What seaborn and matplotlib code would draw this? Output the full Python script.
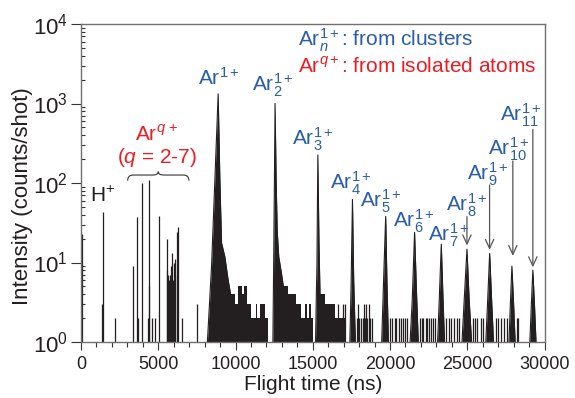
import matplotlib
matplotlib.use("Agg")
import matplotlib.pyplot as plt
import matplotlib.ticker as mticker
from matplotlib.path import Path
from matplotlib.patches import PathPatch
import pandas as pd
import seaborn as sns

sns.set_theme(style="ticks")
plt.rcParams["font.family"] = ["Liberation Sans", "DejaVu Sans"]
plt.rcParams["mathtext.fontset"] = "custom"
plt.rcParams["mathtext.rm"] = "Liberation Sans"
plt.rcParams["mathtext.it"] = "Liberation Sans:italic"
plt.rcParams["mathtext.bf"] = "Liberation Sans:bold"

# single-channel spikes: H+, Ar q+ lines and baseline noise (flight time ns, counts/shot)
spike_t = [60, 1330, 1400, 2200,
           3340, 3600, 3710, 3940, 4330, 4380, 4420, 4610, 4800, 5080,
           5540, 5580, 5640, 5700, 5760, 5820, 5880, 5940, 6000, 6060,
           6110, 6200, 6300, 6510, 7480,
           16640, 16960, 17110,
           17850, 17930, 18020, 18100, 18230, 18320, 18400, 18470, 18540,
           18620, 18700, 18840,
           20010, 20100, 20300, 20420, 20560, 20700, 20850, 21000, 21120,
           21950, 22070, 22160, 22300, 22400, 22520, 22640, 22780, 22940,
           23650, 23800, 23970, 24140, 24310, 24440,
           25400, 25480, 25650, 25870, 26010,
           26830, 26980, 27200, 27410, 27590,
           28200, 28300]
spike_v = [23, 3, 43, 2,
           9, 37, 2, 100, 2, 5, 110, 2, 2, 38,
           8, 20, 7, 6, 7, 9, 13, 6, 10, 7,
           11, 24, 28, 2, 3,
           3, 3, 3,
           2, 3, 2, 2, 2, 3, 2, 3, 2,
           3, 2, 2,
           2, 2, 2, 2, 2, 2, 2, 2, 2,
           2, 2, 2, 2, 2, 2, 2, 2, 2,
           2, 2, 2, 2, 2, 2,
           2, 2, 2, 2, 2,
           2, 2, 2, 2, 2,
           2, 2]

# dense noise between the first cluster peaks (step levels)
tail_t = [9700, 9958, 10173, 10450, 10550, 10712, 11035, 11300, 11360, 11466,
          11574, 11897, 12113, 12900, 13406, 13944, 14268, 14500, 14600, 14750,
          14914, 15022, 15450, 15776, 16422, 17177, 17180]
tail_v = [4, 3, 5, 4, 5, 3, 2, 3, 2, 2,
          3, 2, 1, 5, 4, 3, 2, 3, 2, 3,
          2, 1, 4, 3, 2, 1, 1]

# Ar_n^{1+} cluster peak profiles
peak_names = ["1", "2", "3", "4", "5", "6", "7", "8", "9", "10", "11"]
peak_t = [
    [8180, 8450, 8665, 8878, 8988, 9098, 9311, 9525, 9744, 9800],
    [12420, 12480, 12520, 12560, 12630, 12700, 12800, 12975, 13100, 13150],
    [15180, 15230, 15270, 15330, 15400, 15460, 15520],
    [17400, 17480, 17570, 17650, 17760],
    [19460, 19600, 19720, 19800, 19900],
    [21300, 21440, 21590, 21720, 21830],
    [23080, 23190, 23320, 23430, 23530],
    [24660, 24800, 24980, 25120, 25280],
    [26200, 26320, 26450, 26580, 26700],
    [27700, 27790, 27890, 28000, 28100],
    [29050, 29150, 29245, 29350, 29450],
]
peak_v = [
    [1, 9, 110, 1320, 110, 17.6, 11.8, 6, 3.4, 1],
    [1, 16, 109, 1000, 109, 25, 11.8, 7.3, 5, 1],
    [1, 3.7, 8.9, 225, 19, 5, 1],
    [1, 5, 62, 6, 1],
    [1, 7.3, 38, 6, 1],
    [1, 3.4, 24, 4, 1],
    [1, 3.5, 17, 3.5, 1],
    [1, 3.3, 14.7, 3.5, 1],
    [1, 3.3, 13, 3.3, 1],
    [1, 3, 9, 3, 1],
    [1, 3, 8, 3, 1],
]

# peak labels (left edge, baseline)
label_text = ["Ar$^{1+}$", "Ar$_{2}^{1+}$", "Ar$_{3}^{1+}$", "Ar$_{4}^{1+}$",
              "Ar$_{5}^{1+}$", "Ar$_{6}^{1+}$", "Ar$_{7}^{1+}$", "Ar$_{8}^{1+}$",
              "Ar$_{9}^{1+}$", "Ar$_{10}^{1+}$", "Ar$_{11}^{1+}$"]
label_t = [7585, 11080, 13650, 16100, 18050, 20200, 22450, 23600, 24980, 26350, 27150]
label_v = [1710, 1407, 300, 83, 49, 28, 18.5, 43.5, 108, 225, 600]

# arrows for the weak peaks Ar8..Ar11
arrow_t = [24980, 26445, 27950, 29245]
arrow_from = [37.7, 94.4, 189, 473]
arrow_to = [16.4, 14.4, 12.1, 8.7]

# brace over the Ar q+ lines
brace_t = [3020, 6985]
brace_v = [107, 126, 139]

blue = "#2b5ea7"
red = "#ed1c24"
ink = "#231f20"
fs = 15

fig = plt.figure(figsize=(5.75, 3.98), dpi=100)
ax = fig.add_axes([81 / 575, 56 / 398, 463.5 / 575, 318 / 398])
ax.set_yscale("log")
ax.set_xlim(0, 30000)
ax.set_ylim(1, 1e4)

# spectrum
ax.fill_between(tail_t, 1, tail_v, step="post", color=ink, lw=0)
ax.vlines(spike_t, 1, spike_v, color=ink, lw=0.9)
rows = []
for name, ts, vs in zip(peak_names, peak_t, peak_v):
    ax.fill_between(ts, 1, vs, color=ink, lw=0)
    for t, v in zip(ts, vs):
        rows.append({"peak": name, "t": t, "v": v})
df = pd.DataFrame(rows)
sns.lineplot(data=df, x="t", y="v", units="peak", estimator=None,
             color=ink, lw=0.8, legend=False, ax=ax)

# labels
for txt, t, v in zip(label_text, label_t, label_v):
    ax.text(t, v, txt, color=blue, fontsize=fs, ha="left", va="baseline")
for t, v0, v1 in zip(arrow_t, arrow_from, arrow_to):
    ax.annotate("", xy=(t, v1), xytext=(t, v0),
                arrowprops=dict(arrowstyle="->, head_length=0.65, head_width=0.3",
                                color="#555555", lw=0.9, shrinkA=0, shrinkB=0,
                                mutation_scale=10))

ax.text(14051, 5288, "Ar$_{n}^{1+}$: from clusters", color=blue, fontsize=fs,
        ha="left", va="baseline")
ax.text(14051, 2399, "Ar$^{q+}$: from isolated atoms", color=red, fontsize=fs,
        ha="left", va="baseline")
ax.text(3492, 340, "Ar$^{q\\,+}$", color=red, fontsize=fs, ha="left", va="baseline")
ax.text(2350, 177, "($q$ = 2-7)", color=red, fontsize=fs, ha="left", va="baseline")
ax.text(582, 58.2, "H$^{+}$", color=ink, fontsize=fs, ha="left", va="baseline")

# curly brace, built in axes coordinates
fig.canvas.draw()
to_ax = ax.transAxes.inverted()
(x0, yb), (x1, _) = to_ax.transform(ax.transData.transform([(brace_t[0], brace_v[0]), (brace_t[1], brace_v[0])]))
_, yl = to_ax.transform(ax.transData.transform([(brace_t[0], brace_v[1])]))[0]
_, yt = to_ax.transform(ax.transData.transform([(brace_t[0], brace_v[2])]))[0]
xm = (x0 + x1) / 2
dx = 0.012
verts = [(x0, yb), (x0, yl), (x0 + dx, yl), (xm - dx, yl), (xm, yl), (xm, yt),
         (xm, yl), (xm + dx, yl), (x1 - dx, yl), (x1, yl), (x1, yb)]
codes = [Path.MOVETO, Path.CURVE3, Path.CURVE3, Path.LINETO, Path.CURVE3, Path.CURVE3,
         Path.CURVE3, Path.CURVE3, Path.LINETO, Path.CURVE3, Path.CURVE3]
ax.add_patch(PathPatch(Path(verts, codes), fill=False, lw=0.8, color="#333333",
                       transform=ax.transAxes))

# axes styling
ax.set_xticks(range(0, 30001, 5000))
ax.xaxis.set_minor_locator(mticker.MultipleLocator(1000))
ax.set_yticks([1, 10, 100, 1000, 10000])
ax.set_yticklabels(["$10^{0}$", "$10^{1}$", "$10^{2}$", "$10^{3}$", "$10^{4}$"])
ax.yaxis.set_minor_locator(mticker.LogLocator(base=10, subs=range(2, 10)))
ax.yaxis.set_minor_formatter(mticker.NullFormatter())
ax.tick_params(axis="x", which="major", direction="out", length=6, width=0.8,
               labelsize=13, pad=4, color="#333333", labelcolor=ink)
ax.tick_params(axis="x", which="minor", direction="out", length=3.5, width=0.8,
               color="#333333")
ax.tick_params(axis="y", which="major", direction="out", length=7, width=0.8,
               labelsize=16, pad=2.5, color="#333333", labelcolor=ink)
ax.tick_params(axis="y", which="minor", direction="in", length=3, width=0.8,
               color="#333333")
for s in ax.spines.values():
    s.set_color("#707070")
    s.set_linewidth(1.0)
ax.set_xlabel("Flight time (ns)", fontsize=15, color=ink)
ax.set_ylabel("Intensity (counts/shot)", fontsize=16, color=ink)
ax.xaxis.set_label_coords(0.5, -0.104)
ax.yaxis.set_label_coords(-0.104, 0.459)

fig.savefig("out.png", dpi=100)
